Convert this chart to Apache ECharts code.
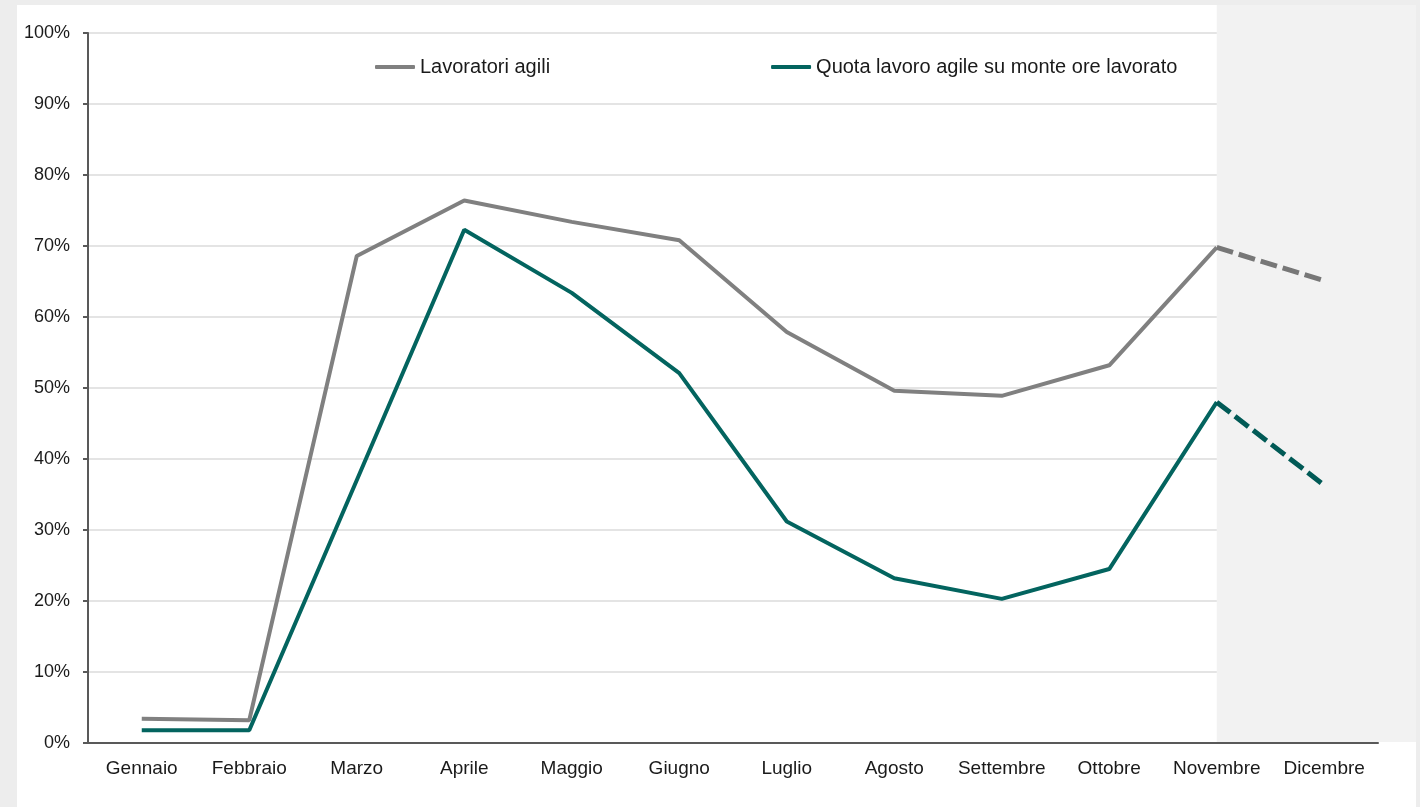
<!DOCTYPE html>
<html>
<head>
<meta charset="utf-8">
<script src="https://cdn.jsdelivr.net/npm/echarts@6/dist/echarts.min.js"></script>
<style>
    html, body { margin: 0; padding: 0; width: 1420px; height: 807px; background: #ededed; overflow: hidden; }
    #chart { position: absolute; left: 17px; top: 5px; width: 1399px; height: 802px; background: #ffffff; }
</style>
</head>
<body>
<div id="chart"></div>
<script>
// mesi
var mesi = ['Gennaio', 'Febbraio', 'Marzo', 'Aprile', 'Maggio', 'Giugno', 'Luglio', 'Agosto', 'Settembre', 'Ottobre', 'Novembre', 'Dicembre'];
// Lavoratori agili (%) - dicembre stimato
var lavoratoriAgili = [3.4, 3.2, 68.6, 76.4, 73.4, 70.8, 57.9, 49.6, 48.9, 53.2, 69.8, null];
var lavoratoriAgiliStima = [null, null, null, null, null, null, null, null, null, null, 69.8, 65.1];
// Quota lavoro agile su monte ore lavorato (%)
var quotaLavoro = [1.8, 1.8, 37.0, 72.3, 63.4, 52.1, 31.2, 23.2, 20.3, 24.5, 48.0, null];
var quotaLavoroStima = [null, null, null, null, null, null, null, null, null, null, 48.0, 36.3];
// tick asse y
var yMin = 0, yMax = 100, yStep = 10;

var nomeSerie1 = 'Lavoratori agili';
var nomeSerie2 = 'Quota lavoro agile su monte ore lavorato';
var grigio = '#808080';
var verde = '#03645f';
var font = 'Liberation Sans, Arial, sans-serif';

var chart = echarts.init(document.getElementById('chart'));

var option = {
    animation: false,
    textStyle: { fontFamily: font },
    legend: {
        left: 353,
        top: 47,
        itemGap: 221,
        itemWidth: 40,
        itemHeight: 4,
        icon: 'roundRect',
        data: [nomeSerie1, nomeSerie2],
        textStyle: { fontSize: 20, color: '#1a1a1a', fontFamily: font }
    },
    grid: {
        left: 71,
        top: 28,
        right: 38,
        bottom: 64,
        containLabel: false
    },
    xAxis: {
        type: 'category',
        data: mesi,
        boundaryGap: true,
        axisLine: { lineStyle: { color: '#595959', width: 2 } },
        axisTick: { show: false },
        axisLabel: { interval: 0, fontSize: 19, color: '#1a1a1a', margin: 16, fontFamily: font },
        splitLine: { show: false }
    },
    yAxis: {
        type: 'value',
        min: yMin,
        max: yMax,
        interval: yStep,
        axisLine: { show: true, lineStyle: { color: '#595959', width: 2 } },
        axisTick: { show: true, length: 5, lineStyle: { color: '#595959', width: 2 } },
        axisLabel: { fontSize: 18, color: '#1a1a1a', margin: 18, formatter: '{value}%', fontFamily: font },
        splitLine: { show: true, lineStyle: { color: '#e4e4e4', width: 2 } }
    },
    series: [
        {
            name: nomeSerie1,
            type: 'line',
            data: lavoratoriAgili,
            symbol: 'none',
            color: grigio,
            lineStyle: { color: grigio, width: 4 },
            z: 3
        },
        {
            name: nomeSerie2,
            type: 'line',
            data: quotaLavoro,
            symbol: 'none',
            color: verde,
            lineStyle: { color: verde, width: 4 },
            z: 3
        },
        {
            name: 'stima1',
            type: 'line',
            data: lavoratoriAgiliStima,
            symbol: 'none',
            lineStyle: { color: '#777777', width: 5, type: [17, 6] },
            z: 3
        },
        {
            name: 'stima2',
            type: 'line',
            data: quotaLavoroStima,
            symbol: 'none',
            lineStyle: { color: '#015a56', width: 5, type: [17, 6] },
            z: 3
        }
    ]
};

chart.setOption(option);

// area grigia del periodo stimato (da Novembre al bordo destro)
function disegnaArea() {
    var x0 = chart.convertToPixel({ xAxisIndex: 0 }, 'Novembre');
    var y0 = chart.convertToPixel({ yAxisIndex: 0 }, yMin);
    chart.setOption({
        graphic: [{
            type: 'rect',
            z: 1,
            silent: true,
            shape: { x: x0, y: 0, width: chart.getWidth() - x0, height: y0 - 1 },
            style: { fill: '#f2f2f2' }
        }]
    });
}
disegnaArea();
</script>
</body>
</html>
